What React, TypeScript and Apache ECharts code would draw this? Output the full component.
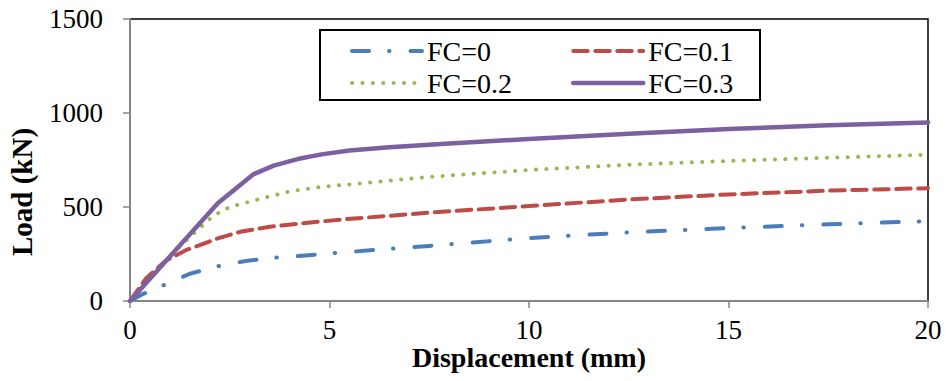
import React, { useEffect, useRef } from "react";
import * as echarts from "echarts";

const seriesNames = ["FC=0", "FC=0.1", "FC=0.2", "FC=0.3"];
const fc0: [number, number][] = [[0,0],[0.3,35],[0.8,80],[1.5,145],[2.2,185],[2.9,213],[3.6,230],[4.4,242],[5.1,255],[7.5,293],[10,335],[12.5,365],[15,388],[17.5,408],[20,425]];
const fc01: [number, number][] = [[0,0],[0.4,120],[0.9,215],[1.4,270],[2.2,333],[2.8,370],[3.5,395],[4.3,413],[5.4,435],[7.5,470],[10,505],[12.5,540],[15,567],[17.5,587],[20,600]];
const fc02: [number, number][] = [[0,0],[1,240],[1.7,380],[2.1,455],[2.5,500],[3.2,540],[4,583],[4.8,607],[5.5,620],[7.5,660],[10,697],[12.5,725],[15,745],[17.5,762],[20,778]];
const fc03: [number, number][] = [[0,0],[1.1,260],[2.2,520],[3.1,675],[3.6,720],[4.2,755],[4.8,780],[5.5,800],[6.5,818],[8,838],[10,862],[12.5,890],[15,915],[17.5,935],[20,950]];
const xTicks = { min: 0, max: 20, interval: 5 };
const yTicks = { min: 0, max: 1500, interval: 500 };

const FONT = "'Liberation Serif', 'Times New Roman', serif";

const colors = ["#4A7EBB", "#BE4B48", "#98B954", "#7D60A0"];
const widths = [4, 4, 4, 4.5];
const dashes: any[] = [[17, 20, 0.5, 21], [14.5, 7.5], [0.1, 10.3], "solid"];

export default function App() {
  const ref = useRef<HTMLDivElement>(null);
  useEffect(() => {
    if (!ref.current) return;
    const chart = echarts.init(ref.current, undefined, { renderer: "svg" });
    const mk = (i: number, data: [number, number][]) => ({
      name: seriesNames[i],
      type: "line",
      data,
      showSymbol: false,
      symbol: "none",
      smooth: false,
      color: colors[i],
      lineStyle: { color: colors[i], width: widths[i], type: dashes[i], cap: "round", join: "round" },
    });
    const legItem = (i: number) => ({
      name: seriesNames[i],
      itemStyle: { opacity: 0 },
      lineStyle: { color: colors[i], width: widths[i], type: dashes[i], cap: "round" },
    });
    const legendBase = {
      orient: "vertical",
      top: 31,
      itemWidth: 70,
      itemHeight: 14,
      itemGap: 2,
      itemStyle: { opacity: 0 },
      textStyle: { fontFamily: FONT, fontSize: 28, color: "#000", lineHeight: 30 },
    };
    chart.setOption({
      animation: false,
      textStyle: { fontFamily: FONT, color: "#000" },
      grid: {
        left: 130, right: 18, top: 19, bottom: 80,
        outerBoundsMode: "none", containLabel: false,
        show: true, borderColor: "#000", borderWidth: 1.5, backgroundColor: "transparent",
      },
      xAxis: {
        type: "value",
        min: xTicks.min,
        max: xTicks.max,
        interval: xTicks.interval,
        name: "Displacement (mm)",
        nameLocation: "middle",
        nameGap: 45,
        nameMoveOverlap: false,
        nameTextStyle: { fontFamily: FONT, fontSize: 28, fontWeight: "bold", color: "#000", lineHeight: 22 },
        axisLine: { lineStyle: { color: "#868686", width: 2 } },
        axisTick: { show: true, inside: false, length: 7, lineStyle: { color: "#868686", width: 1.5 } },
        axisLabel: { fontFamily: FONT, fontSize: 27, color: "#000", margin: 19, lineHeight: 20, formatter: (v: number) => String(v) },
        splitLine: { show: false },
      },
      yAxis: {
        type: "value",
        min: yTicks.min,
        max: yTicks.max,
        interval: yTicks.interval,
        axisLine: { show: true, lineStyle: { color: "#868686", width: 2 } },
        axisTick: { show: true, inside: false, length: 7, lineStyle: { color: "#868686", width: 1.5 } },
        axisLabel: { fontFamily: FONT, fontSize: 27, color: "#000", margin: 27, padding: [6, 0, 0, 0], formatter: (v: number) => String(v) },
        splitLine: { show: false },
      },
      legend: [
        { ...legendBase, data: [legItem(0), legItem(2)], left: 345 },
        { ...legendBase, data: [legItem(1), legItem(3)], left: 566 },
      ],
      graphic: [
        {
          type: "rect",
          z: 3,
          shape: { x: 320, y: 30, width: 440, height: 70 },
          style: { fill: "#fff", stroke: "#000", lineWidth: 2 },
        },
        {
          type: "text",
          x: 22,
          y: 192,
          rotation: Math.PI / 2,
          style: { text: "Load (kN)", font: `bold 29px ${FONT}`, fill: "#000", textAlign: "center", textVerticalAlign: "middle" },
        },
      ],
      series: [mk(0, fc0), mk(1, fc01), mk(2, fc02), mk(3, fc03)],
    });
    return () => chart.dispose();
  }, []);
  return <div ref={ref} style={{ width: 946, height: 381, position: "absolute", left: 0, top: 0 }} />;
}
